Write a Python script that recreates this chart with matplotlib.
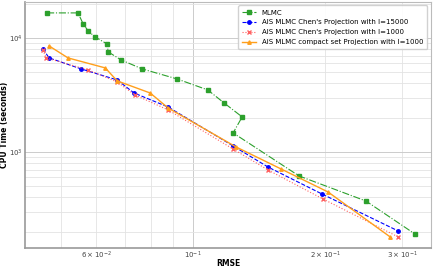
import matplotlib
matplotlib.use("Agg")
import matplotlib.pyplot as plt

# RMSE / CPU time
rmse_mlmc = [0.0464, 0.0546, 0.0561, 0.0576, 0.0597, 0.0636, 0.0640, 0.0685, 0.0765,
             0.0919, 0.108, 0.1177, 0.1294, 0.1234, 0.1746, 0.248, 0.321]
time_mlmc = [16570, 16570, 13270, 11520, 10200, 8860, 7540, 6410, 5350,
             4370, 3500, 2690, 2030, 1470, 616, 372, 191]

rmse_chen15000 = [0.0454, 0.0469, 0.0555, 0.0671, 0.0733, 0.0877, 0.1234, 0.1483, 0.197, 0.294]
time_chen15000 = [8010, 6680, 5350, 4280, 3290, 2480, 1130, 738, 428, 203]

rmse_chen1000 = [0.0454, 0.0462, 0.0576, 0.0671, 0.0737, 0.0877, 0.1234, 0.1483, 0.198, 0.294]
time_chen1000 = [7850, 6680, 5240, 4110, 3160, 2336, 1062, 695, 387, 180]

rmse_compact = [0.0469, 0.0518, 0.0630, 0.0671, 0.0798, 0.0877, 0.1254, 0.1588, 0.2033, 0.2818]
time_compact = [8510, 6680, 5460, 4200, 3290, 2430, 1106, 710, 446, 180]

fig = plt.figure(figsize=(4.37, 2.69), dpi=100)
ax = fig.add_axes([0.057, 0.078, 0.929, 0.915])

ax.plot(rmse_mlmc, time_mlmc, color='#2ca02c', ls='-.', lw=0.8, marker='s', ms=2.5, label='MLMC')
ax.plot(rmse_chen15000, time_chen15000, color='blue', ls='--', lw=0.8, marker='o', ms=2.5,
        label="AIS MLMC Chen's Projection with l=15000")
ax.plot(rmse_chen1000, time_chen1000, color='#ff6060', ls=':', lw=0.8, marker='x', ms=2.5,
        label="AIS MLMC Chen's Projection with l=1000")
ax.plot(rmse_compact, time_compact, color='#ff9f1c', ls='-', lw=1.0, marker='^', ms=2.5,
        label="AIS MLMC compact set Projection with l=1000")

ax.set_xscale('log')
ax.set_yscale('log')
ax.set_xlim(0.0413, 0.349)
ax.set_ylim(144, 20700)

ax.grid(True, which='major', color='#cccccc', lw=0.7)
ax.grid(True, which='minor', color='#e3e3e3', lw=0.6)
ax.tick_params(which='both', labelsize=5, length=0, colors='#444444', pad=1.5)
for s in ax.spines.values():
    s.set_color('#bbbbbb')
    s.set_linewidth(0.8)
ax.spines['left'].set_color('#999999')
ax.spines['bottom'].set_color('#999999')
ax.spines['left'].set_linewidth(1.2)
ax.spines['bottom'].set_linewidth(1.2)

ax.set_xlabel('RMSE', fontsize=5.5, fontweight='bold')
ax.set_ylabel('CPU Time (seconds)', fontsize=5.5, fontweight='bold')
ax.xaxis.set_label_coords(0.5, -0.043)
ax.yaxis.set_label_coords(-0.040, 0.5)

ax.legend(loc='upper right', fontsize=5, handlelength=2, framealpha=0.9,
          borderpad=0.6, labelspacing=0.55)

fig.savefig('out.png', dpi=100)
